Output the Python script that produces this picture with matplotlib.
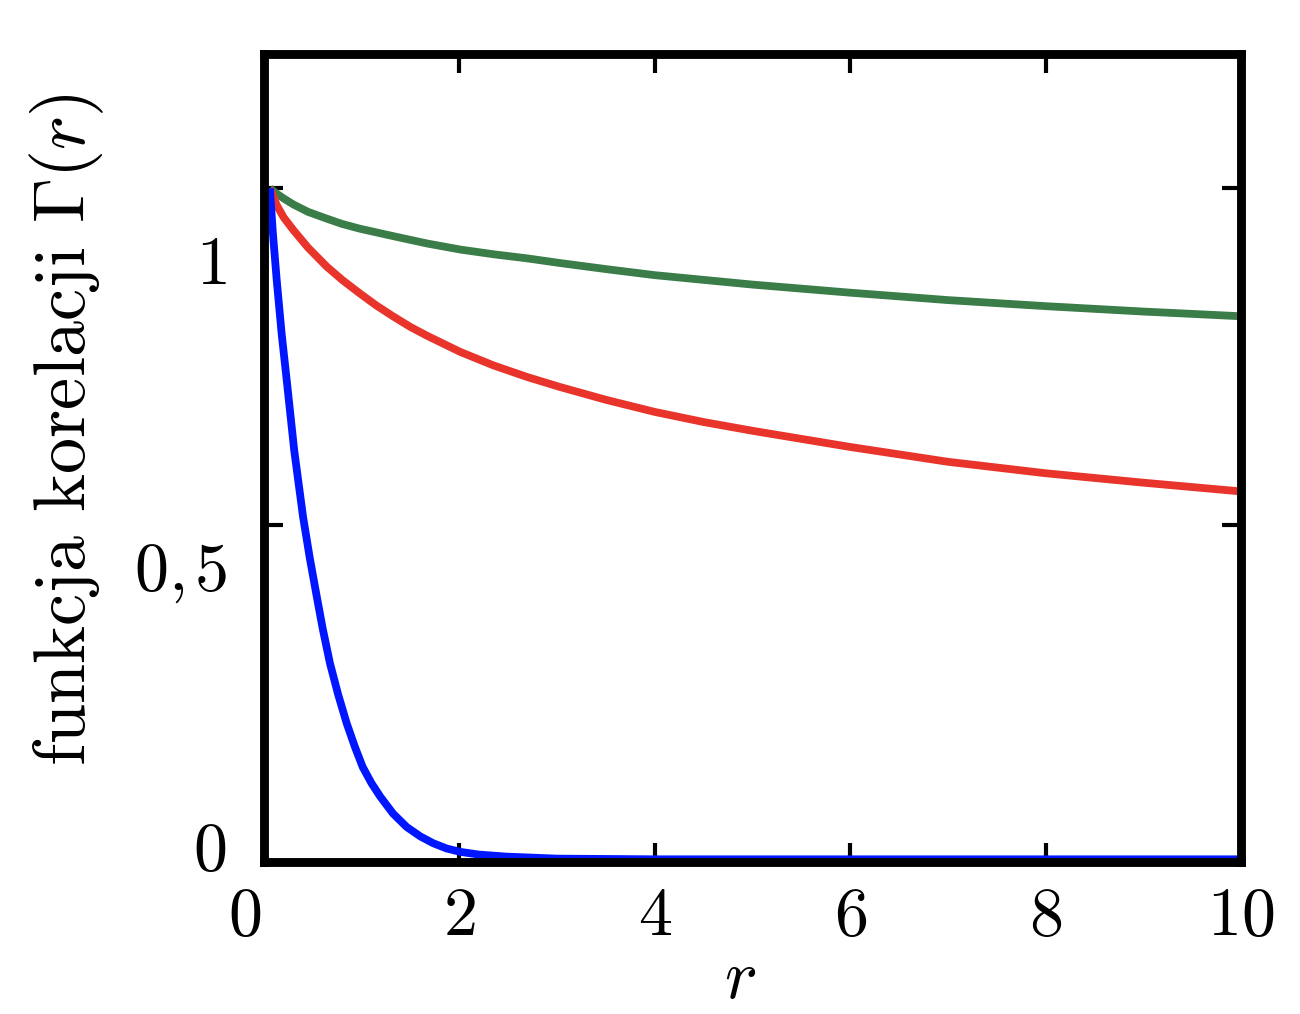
import matplotlib
matplotlib.use("Agg")
import matplotlib.pyplot as plt
from matplotlib.transforms import ScaledTranslation

# ---- data ----
r_green = [0.06, 0.13, 0.20, 0.30, 0.45, 0.64, 0.80, 0.98, 1.32, 1.67, 2.01, 2.35, 2.69, 3.03, 3.5, 4.0, 5.0, 6.0, 7.0, 8.0, 9.0, 10.0]
g_green = [1.000, 0.992, 0.985, 0.976, 0.965, 0.955, 0.947, 0.940, 0.929, 0.918, 0.909, 0.902, 0.896, 0.889, 0.880, 0.871, 0.857, 0.845, 0.834, 0.825, 0.817, 0.810]

r_red = [0.06, 0.13, 0.20, 0.30, 0.45, 0.64, 0.80, 0.98, 1.15, 1.32, 1.50, 1.67, 2.01, 2.35, 2.69, 3.03, 3.5, 4.0, 4.5, 5.0, 6.0, 7.0, 8.0, 9.0, 10.0]
g_red = [1.000, 0.975, 0.957, 0.938, 0.912, 0.884, 0.864, 0.844, 0.826, 0.810, 0.794, 0.781, 0.757, 0.737, 0.720, 0.705, 0.686, 0.668, 0.653, 0.640, 0.616, 0.594, 0.577, 0.563, 0.550]

r_blue = [0.06, 0.09, 0.13, 0.18, 0.24, 0.31, 0.40, 0.47, 0.54, 0.60, 0.675, 0.76, 0.846, 0.93, 1.01, 1.10, 1.19, 1.32, 1.46, 1.60, 1.73, 1.87, 2.01, 2.20, 2.48, 3.0, 4.0, 6.0, 8.0, 10.0]
g_blue = [1.000, 0.935, 0.864, 0.785, 0.705, 0.610, 0.512, 0.450, 0.394, 0.347, 0.295, 0.248, 0.206, 0.171, 0.141, 0.117, 0.097, 0.072, 0.052, 0.038, 0.028, 0.020, 0.015, 0.011, 0.008, 0.005, 0.004, 0.004, 0.004, 0.004]

xticks = [0, 2, 4, 6, 8, 10]
xticklabels = ["$0$", "$2$", "$4$", "$6$", "$8$", "$10$"]
yticks = [0, 0.5, 1]
yticklabels = ["$0$", r"$0{,}\hspace{0.12}5$", "$1$"]

xlabel = "$r$"
ylabel = r"funkcja korelacji $\Gamma(r)$"

# ---- style ----
plt.rcParams["font.family"] = ["cmr10", "DejaVu Serif"]
plt.rcParams["mathtext.fontset"] = "cm"
plt.rcParams["axes.unicode_minus"] = False

DPI = 200
fig = plt.figure(figsize=(1300 / DPI, 1014 / DPI), dpi=DPI)
ax = fig.add_axes([264 / 1300, 1 - 862 / 1014, 977 / 1300, 808.5 / 1014])

lw = 2.8
ax.plot(r_green, g_green, color="#3a7d48", lw=lw, solid_capstyle="butt", solid_joinstyle="round")
ax.plot(r_red, g_red, color="#e8342a", lw=lw, solid_capstyle="butt", solid_joinstyle="round")
ax.plot(r_blue, g_blue, color="#0016ff", lw=lw, solid_capstyle="butt", solid_joinstyle="round")

ax.set_xlim(0, 10)
ax.set_ylim(0, 1.2)

for s in ax.spines.values():
    s.set_linewidth(3.2)
    s.set_color("black")

ax.tick_params(direction="in", length=7, width=1.5, top=True, right=True,
               labelsize=24.5, colors="black")
ax.tick_params(axis="x", pad=9)
ax.tick_params(axis="y", pad=13.5)

ax.set_xticks(xticks)
ax.set_xticklabels(xticklabels)
ax.set_yticks(yticks)
ax.set_yticklabels(yticklabels)

# label displacement seen in the reference (in pixels)
y_offsets_px = [16, -41, -72]
for lab, dy in zip(ax.yaxis.get_majorticklabels(), y_offsets_px):
    lab.set_transform(lab.get_transform() + ScaledTranslation(0, dy / DPI, fig.dpi_scale_trans))
x_offsets_px = [-19, 0, 0, 0, 0, 0]
for lab, dx in zip(ax.xaxis.get_majorticklabels(), x_offsets_px):
    lab.set_transform(lab.get_transform() + ScaledTranslation(dx / DPI, 0, fig.dpi_scale_trans))

ax.set_xlabel(xlabel, fontsize=25)
ax.set_ylabel(ylabel, fontsize=26)
ax.xaxis.set_label_coords((740 - 264) / 977, (862 - 950) / 808.5)
ax.yaxis.set_label_coords((106 - 264) / 977, (862 - 430) / 808.5)

fig.savefig("out.png", dpi=DPI)
